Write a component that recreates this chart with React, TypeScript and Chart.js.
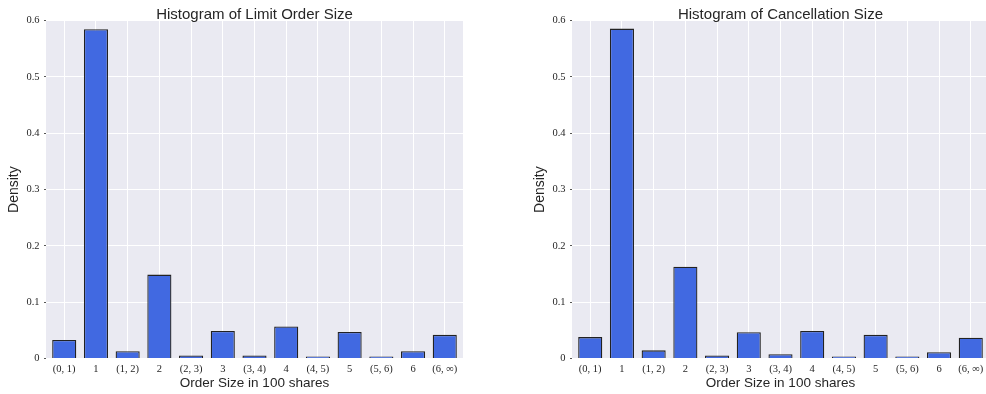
import React, { useEffect, useRef } from "react";
import { Chart, registerables } from "chart.js";

Chart.register(...registerables);

// ---- data ----
const categories = ["(0, 1)", "1", "(1, 2)", "2", "(2, 3)", "3", "(3, 4)", "4", "(4, 5)", "5", "(5, 6)", "6", "(6, ∞)"];
const limitOrderDensity = [0.033, 0.585, 0.013, 0.149, 0.0055, 0.049, 0.0055, 0.057, 0.0008, 0.047, 0.0015, 0.013, 0.042];
const cancellationDensity = [0.038, 0.586, 0.0145, 0.163, 0.0055, 0.0465, 0.0075, 0.049, 0.0008, 0.042, 0.0015, 0.011, 0.037];
const yTickValues = [0, 0.1, 0.2, 0.3, 0.4, 0.5, 0.6];
const limitTitle = "Histogram of Limit Order Size";
const cancelTitle = "Histogram of Cancellation Size";
const xAxisLabel = "Order Size in 100 shares";
const yAxisLabel = "Density";

const TEXT = "#262626";
const SANS = "'Liberation Sans', Arial, sans-serif";
const SERIF = "'Liberation Serif', 'Times New Roman', serif";

function HistChart({ title, values, left }: { title: string; values: number[]; left: number }) {
  const ref = useRef<HTMLCanvasElement | null>(null);
  useEffect(() => {
    const canvas = ref.current;
    if (!canvas) return;
    const panelPlugin = {
      id: "panel",
      beforeDraw(chart: any) {
        const { ctx, chartArea } = chart;
        ctx.save();
        ctx.fillStyle = "#EAEAF2";
        ctx.fillRect(chartArea.left, chartArea.top, chartArea.right - chartArea.left, chartArea.bottom - chartArea.top);
        ctx.restore();
      },
      afterDraw(chart: any) {
        const { ctx, chartArea } = chart;
        ctx.save();
        ctx.fillStyle = TEXT;
        ctx.font = `15px ${SANS}`;
        ctx.textAlign = "center";
        ctx.textBaseline = "alphabetic";
        ctx.fillText(title, (chartArea.left + chartArea.right) / 2, 19);
        ctx.restore();
      },
    };
    const chart = new Chart(canvas, {
      type: "bar",
      data: {
        datasets: [
          {
            data: values.map((v, i) => ({ x: i, y: v })),
            backgroundColor: "#4169E1",
            borderColor: "#222222",
            borderWidth: 1.3,
            minBarLength: 2,
            barPercentage: 0.76,
            categoryPercentage: 1,
          },
        ],
      },
      options: {
        animation: false,
        responsive: false,
        maintainAspectRatio: false,
        layout: { padding: { top: 20.7, right: 17, left: 0, bottom: 0 } },
        plugins: { legend: { display: false }, tooltip: { enabled: false }, title: { display: false } },
        scales: {
          x: {
            type: "linear",
            min: -0.575,
            max: 12.575,
            offset: false,
            border: { display: false },
            grid: { color: "#FFFFFF", lineWidth: 1, drawTicks: false, tickLength: 0, offset: false },
            afterBuildTicks: (scale: any) => {
              scale.ticks = categories.map((_, i) => ({ value: i }));
            },
            afterFit: (scale: any) => {
              scale.height = 35.5;
            },
            ticks: {
              autoSkip: false,
              maxRotation: 0,
              minRotation: 0,
              padding: 4,
              color: TEXT,
              font: { family: SERIF, size: 10.5 },
              callback: (v: any) => categories[Math.round(Number(v))] ?? "",
            },
            title: {
              display: true,
              text: xAxisLabel,
              color: TEXT,
              font: { family: SANS, size: 13.5 },
              padding: 3,
            },
          },
          y: {
            min: 0,
            max: 0.6,
            border: { display: false },
            grid: { color: "#FFFFFF", lineWidth: 1, drawTicks: true, tickLength: 2, tickColor: "#555555" },
            afterBuildTicks: (scale: any) => {
              scale.ticks = yTickValues.map((v) => ({ value: v }));
            },
            afterFit: (scale: any) => {
              scale.width = 46;
            },
            ticks: {
              padding: 4.5,
              color: TEXT,
              font: { family: SERIF, size: 10.5 },
              callback: (v: any) => (Number(v) === 0 ? "0" : Number(v).toFixed(1)),
            },
            title: {
              display: true,
              text: yAxisLabel,
              color: TEXT,
              font: { family: SANS, size: 14 },
              padding: 5.6,
            },
          },
        },
      },
      plugins: [panelPlugin],
    } as any);
    return () => chart.destroy();
  }, [title, values]);
  return (
    <canvas
      ref={ref}
      width={480}
      height={394}
      style={{ position: "absolute", left, top: 0, width: 480, height: 394 }}
    />
  );
}

export default function App() {
  return (
    <div
      style={{
        position: "fixed",
        left: 0,
        top: 0,
        width: 986,
        height: 394,
        overflow: "hidden",
        background: "#FFFFFF",
      }}
    >
      <HistChart title={limitTitle} values={limitOrderDensity} left={0} />
      <HistChart title={cancelTitle} values={cancellationDensity} left={526} />
    </div>
  );
}
